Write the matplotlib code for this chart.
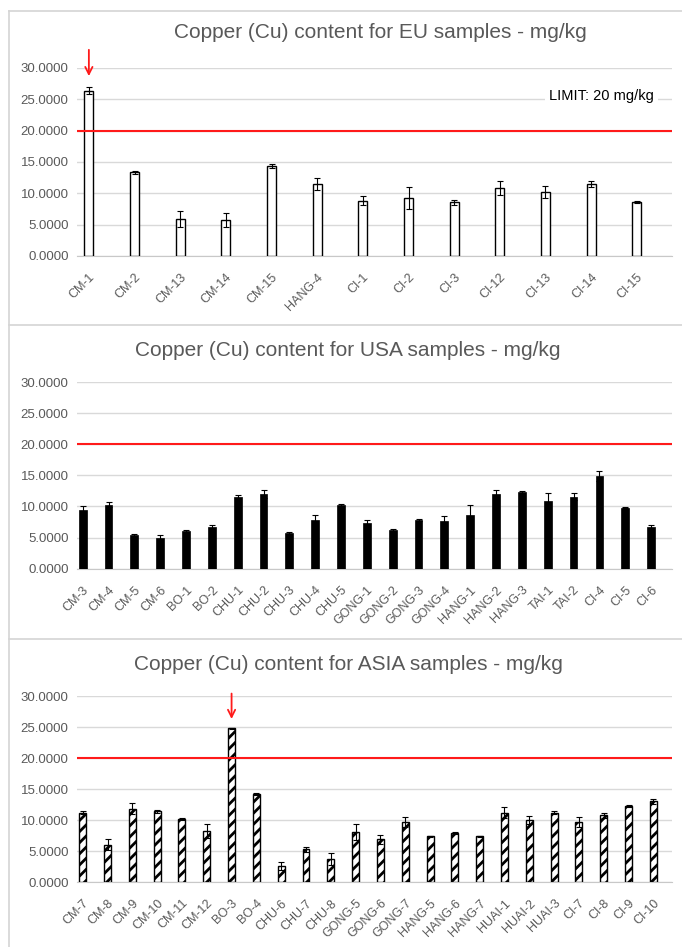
import numpy as np
import matplotlib
matplotlib.use('Agg')
import matplotlib.pyplot as plt
from matplotlib.lines import Line2D

plt.rcParams['font.family'] = ['Liberation Sans', 'DejaVu Sans']
plt.rcParams['hatch.linewidth'] = 2.0

# EU samples
eu_names = ['CM-1', 'CM-2', 'CM-13', 'CM-14', 'CM-15', 'HANG-4', 'CI-1', 'CI-2',
            'CI-3', 'CI-12', 'CI-13', 'CI-14', 'CI-15']
eu_vals = [26.4, 13.35, 5.9, 5.75, 14.3, 11.5, 8.8, 9.25, 8.55, 10.8, 10.2, 11.5, 8.6]
eu_err = [0.5, 0.2, 1.2, 1.15, 0.3, 0.9, 0.7, 1.7, 0.45, 1.1, 1.0, 0.45, 0.2]

# USA samples
usa_names = ['CM-3', 'CM-4', 'CM-5', 'CM-6', 'BO-1', 'BO-2', 'CHU-1', 'CHU-2', 'CHU-3',
             'CHU-4', 'CHU-5', 'GONG-1', 'GONG-2', 'GONG-3', 'GONG-4', 'HANG-1', 'HANG-2',
             'HANG-3', 'TAI-1', 'TAI-2', 'CI-4', 'CI-5', 'CI-6']
usa_vals = [9.5, 10.3, 5.4, 4.9, 6.1, 6.75, 11.5, 12.0, 5.7, 7.9, 10.2, 7.4, 6.2, 7.8,
            7.7, 8.6, 12.0, 12.3, 10.9, 11.6, 14.9, 9.8, 6.75]
usa_err = [0.5, 0.4, 0.1, 0.5, 0.15, 0.2, 0.3, 0.6, 0.2, 0.7, 0.2, 0.5, 0.1, 0.2, 0.8,
           1.6, 0.7, 0.15, 1.3, 0.6, 0.8, 0.1, 0.2]

# ASIA samples
asia_names = ['CM-7', 'CM-8', 'CM-9', 'CM-10', 'CM-11', 'CM-12', 'BO-3', 'BO-4', 'CHU-6',
              'CHU-7', 'CHU-8', 'GONG-5', 'GONG-6', 'GONG-7', 'HANG-5', 'HANG-6', 'HANG-7',
              'HUAI-1', 'HUAI-2', 'HUAI-3', 'CI-7', 'CI-8', 'CI-9', 'CI-10']
asia_vals = [11.2, 6.0, 11.8, 11.4, 10.2, 8.2, 24.8, 14.2, 2.6, 5.3, 3.7, 8.0, 6.9, 9.7,
             7.35, 7.9, 7.35, 11.2, 10.0, 11.2, 9.7, 10.8, 12.3, 13.0]
asia_err = [0.2, 0.9, 0.9, 0.2, 0.2, 1.1, 0.1, 0.1, 0.7, 0.4, 1.0, 1.3, 0.7, 0.8, 0.1, 0.1,
            0.1, 0.9, 0.7, 0.2, 0.8, 0.4, 0.2, 0.4]

LIMIT = 20
yticks = [0, 5, 10, 15, 20, 25, 30]

fig = plt.figure(figsize=(6.82, 9.47), dpi=100)

# panel frames (light gray, like the spreadsheet chart boxes)
frame = '#d4d4d4'
fig.add_artist(Line2D([9 / 682, 9 / 682], [0, 1 - 11 / 947], color=frame, lw=1.2))
for yy in [11, 325, 639]:
    fig.add_artist(Line2D([9 / 682, 1], [1 - yy / 947, 1 - yy / 947], color=frame, lw=1.2))

panels = [
    (eu_names, eu_vals, eu_err, 'EU', [0.1129, 0.7297, 0.8724, 0.1985], (-0.26, 12.77), 0.2,
     dict(facecolor='white', edgecolor='black', linewidth=1.0), 380 / 682, 1 - 33 / 947),
    (usa_names, usa_vals, usa_err, 'USA', [0.1129, 0.3995, 0.8724, 0.1971], (-0.22, 22.81), 0.3,
     dict(facecolor='black', edgecolor='black', linewidth=0.5), 348 / 682, 1 - 350 / 947),
    (asia_names, asia_vals, asia_err, 'ASIA', [0.1129, 0.0686, 0.8724, 0.1964], (-0.23, 23.75), 0.28,
     dict(facecolor='white', edgecolor='black', linewidth=1.0, hatch='///'), 348 / 682, 1 - 665 / 947),
]

axes = []
for names, vals, err, region, pos, xlim, width, style, tx, ty in panels:
    ax = fig.add_axes(pos)
    x = np.arange(len(names))
    ax.bar(x, vals, width=width, zorder=3, **style)
    ax.errorbar(x, vals, yerr=err, fmt='none', ecolor='black', elinewidth=0.8,
                capsize=2.5, capthick=0.8, zorder=4)
    ax.axhline(LIMIT, color='#ff1a1a', lw=1.5, zorder=5)
    ax.set_xlim(*xlim)
    ax.set_ylim(0, 30)
    ax.set_yticks(yticks)
    ax.set_yticklabels(['%.4f' % v for v in yticks])
    ax.set_xticks(x)
    ax.set_xticklabels(names, rotation=45, ha='right', rotation_mode='anchor')
    ax.tick_params(axis='y', length=0, labelsize=9.5, colors='#595959', pad=6)
    ax.tick_params(axis='x', length=0, labelsize=9, colors='#595959', pad=11)
    ax.grid(axis='y', color='#d9d9d9', lw=1, zorder=0)
    for s in ['top', 'right', 'left']:
        ax.spines[s].set_visible(False)
    ax.spines['bottom'].set_color('#c8c8c8')
    ax.spines['bottom'].set_zorder(2)
    fig.text(tx, ty, f'Copper (Cu) content for {region} samples - mg/kg',
             ha='center', va='center', fontsize=15, color='#595959')
    axes.append(ax)

# limit label in the EU chart
axes[0].text(11.23, 25.5, 'LIMIT: 20 mg/kg', ha='center', va='center', fontsize=10.5,
             color='black', zorder=6,
             bbox=dict(facecolor='white', edgecolor='none', pad=3))

# red arrows above the samples over the limit
arrow = dict(arrowstyle='->', color='#ff1a1a', lw=1.3, mutation_scale=13,
             shrinkA=0, shrinkB=0)
axes[0].annotate('', xy=(0, 28.7), xytext=(0, 32.9), annotation_clip=False,
                 arrowprops=arrow)
axes[2].annotate('', xy=(6, 26.3), xytext=(6, 30.4), annotation_clip=False,
                 arrowprops=arrow)

plt.savefig('out.png', dpi=100)
